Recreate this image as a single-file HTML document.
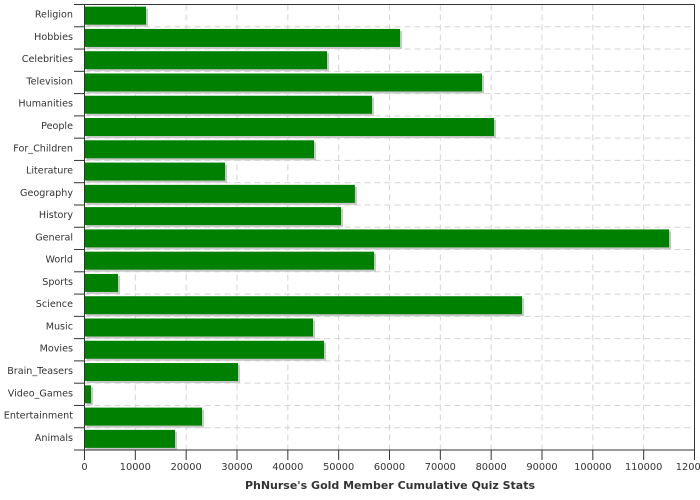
<!DOCTYPE html>
<html><head><meta charset="utf-8"><style>body{margin:0;background:#fff}svg{display:block}</style></head><body>
<svg width="700" height="500" xmlns="http://www.w3.org/2000/svg" font-family="'DejaVu Sans','Liberation Sans',sans-serif">
<rect width="700" height="500" fill="#fff"/>
<g stroke="#d4d4d4" stroke-dasharray="6,4">
<line x1="135.33" y1="4.5" x2="135.33" y2="450"/><line x1="186.17" y1="4.5" x2="186.17" y2="450"/><line x1="237" y1="4.5" x2="237" y2="450"/><line x1="287.83" y1="4.5" x2="287.83" y2="450"/><line x1="338.67" y1="4.5" x2="338.67" y2="450"/><line x1="389.5" y1="4.5" x2="389.5" y2="450"/><line x1="440.33" y1="4.5" x2="440.33" y2="450"/><line x1="491.17" y1="4.5" x2="491.17" y2="450"/><line x1="542" y1="4.5" x2="542" y2="450"/><line x1="592.83" y1="4.5" x2="592.83" y2="450"/><line x1="643.67" y1="4.5" x2="643.67" y2="450"/>
<line x1="84.5" y1="26.78" x2="694.5" y2="26.78"/><line x1="84.5" y1="49.05" x2="694.5" y2="49.05"/><line x1="84.5" y1="71.33" x2="694.5" y2="71.33"/><line x1="84.5" y1="93.6" x2="694.5" y2="93.6"/><line x1="84.5" y1="115.88" x2="694.5" y2="115.88"/><line x1="84.5" y1="138.15" x2="694.5" y2="138.15"/><line x1="84.5" y1="160.43" x2="694.5" y2="160.43"/><line x1="84.5" y1="182.7" x2="694.5" y2="182.7"/><line x1="84.5" y1="204.98" x2="694.5" y2="204.98"/><line x1="84.5" y1="227.25" x2="694.5" y2="227.25"/><line x1="84.5" y1="249.53" x2="694.5" y2="249.53"/><line x1="84.5" y1="271.8" x2="694.5" y2="271.8"/><line x1="84.5" y1="294.08" x2="694.5" y2="294.08"/><line x1="84.5" y1="316.35" x2="694.5" y2="316.35"/><line x1="84.5" y1="338.63" x2="694.5" y2="338.63"/><line x1="84.5" y1="360.9" x2="694.5" y2="360.9"/><line x1="84.5" y1="383.18" x2="694.5" y2="383.18"/><line x1="84.5" y1="405.45" x2="694.5" y2="405.45"/><line x1="84.5" y1="427.73" x2="694.5" y2="427.73"/>
</g>
<g fill="#c8c8c8">
<rect x="86.5" y="8.64" width="61.5" height="18"/><rect x="86.5" y="30.91" width="315.5" height="18"/><rect x="86.5" y="53.19" width="242.5" height="18"/><rect x="86.5" y="75.46" width="397.5" height="18"/><rect x="86.5" y="97.74" width="287.5" height="18"/><rect x="86.5" y="120.01" width="409.5" height="18"/><rect x="86.5" y="142.29" width="229.5" height="18"/><rect x="86.5" y="164.56" width="140.5" height="18"/><rect x="86.5" y="186.84" width="270.4" height="18"/><rect x="86.5" y="209.11" width="256.5" height="18"/><rect x="86.5" y="231.39" width="584.6" height="18"/><rect x="86.5" y="253.66" width="289.5" height="18"/><rect x="86.5" y="275.94" width="33.5" height="18"/><rect x="86.5" y="298.21" width="437.5" height="18"/><rect x="86.5" y="320.49" width="228.5" height="18"/><rect x="86.5" y="342.76" width="239.5" height="18"/><rect x="86.5" y="365.04" width="153.5" height="18"/><rect x="86.5" y="387.31" width="6.5" height="18"/><rect x="86.5" y="409.59" width="117.5" height="18"/><rect x="86.5" y="431.86" width="90.5" height="18"/>
</g>
<g fill="#008000">
<rect x="84.5" y="6.64" width="61.5" height="18"/><rect x="84.5" y="28.91" width="315.5" height="18"/><rect x="84.5" y="51.19" width="242.5" height="18"/><rect x="84.5" y="73.46" width="397.5" height="18"/><rect x="84.5" y="95.74" width="287.5" height="18"/><rect x="84.5" y="118.01" width="409.5" height="18"/><rect x="84.5" y="140.29" width="229.5" height="18"/><rect x="84.5" y="162.56" width="140.5" height="18"/><rect x="84.5" y="184.84" width="270.4" height="18"/><rect x="84.5" y="207.11" width="256.5" height="18"/><rect x="84.5" y="229.39" width="584.6" height="18"/><rect x="84.5" y="251.66" width="289.5" height="18"/><rect x="84.5" y="273.94" width="33.5" height="18"/><rect x="84.5" y="296.21" width="437.5" height="18"/><rect x="84.5" y="318.49" width="228.5" height="18"/><rect x="84.5" y="340.76" width="239.5" height="18"/><rect x="84.5" y="363.04" width="153.5" height="18"/><rect x="84.5" y="385.31" width="6.5" height="18"/><rect x="84.5" y="407.59" width="117.5" height="18"/><rect x="84.5" y="429.86" width="90.5" height="18"/>
</g>
<g font-size="9.6" text-anchor="end" fill="#333" transform="translate(0,-1.5)">
<text x="73" y="19.1">Religion</text><text x="73" y="41.4">Hobbies</text><text x="73" y="63.7">Celebrities</text><text x="73" y="85.9">Television</text><text x="73" y="108.2">Humanities</text><text x="73" y="130.5">People</text><text x="73" y="152.8">For_Children</text><text x="73" y="175">Literature</text><text x="73" y="197.3">Geography</text><text x="73" y="219.6">History</text><text x="73" y="241.9">General</text><text x="73" y="264.1">World</text><text x="73" y="286.4">Sports</text><text x="73" y="308.7">Science</text><text x="73" y="331">Music</text><text x="73" y="353.2">Movies</text><text x="73" y="375.5">Brain_Teasers</text><text x="73" y="397.8">Video_Games</text><text x="73" y="420.1">Entertainment</text><text x="73" y="442.3">Animals</text>
</g>
<g stroke="#333">
<line x1="74" y1="4.5" x2="84.5" y2="4.5"/><line x1="74" y1="26.78" x2="84.5" y2="26.78"/><line x1="74" y1="49.05" x2="84.5" y2="49.05"/><line x1="74" y1="71.33" x2="84.5" y2="71.33"/><line x1="74" y1="93.6" x2="84.5" y2="93.6"/><line x1="74" y1="115.88" x2="84.5" y2="115.88"/><line x1="74" y1="138.15" x2="84.5" y2="138.15"/><line x1="74" y1="160.43" x2="84.5" y2="160.43"/><line x1="74" y1="182.7" x2="84.5" y2="182.7"/><line x1="74" y1="204.98" x2="84.5" y2="204.98"/><line x1="74" y1="227.25" x2="84.5" y2="227.25"/><line x1="74" y1="249.53" x2="84.5" y2="249.53"/><line x1="74" y1="271.8" x2="84.5" y2="271.8"/><line x1="74" y1="294.08" x2="84.5" y2="294.08"/><line x1="74" y1="316.35" x2="84.5" y2="316.35"/><line x1="74" y1="338.63" x2="84.5" y2="338.63"/><line x1="74" y1="360.9" x2="84.5" y2="360.9"/><line x1="74" y1="383.18" x2="84.5" y2="383.18"/><line x1="74" y1="405.45" x2="84.5" y2="405.45"/><line x1="74" y1="427.73" x2="84.5" y2="427.73"/><line x1="74" y1="450" x2="84.5" y2="450"/>
<line x1="84.5" y1="450" x2="84.5" y2="460"/><line x1="135.33" y1="450" x2="135.33" y2="460"/><line x1="186.17" y1="450" x2="186.17" y2="460"/><line x1="237" y1="450" x2="237" y2="460"/><line x1="287.83" y1="450" x2="287.83" y2="460"/><line x1="338.67" y1="450" x2="338.67" y2="460"/><line x1="389.5" y1="450" x2="389.5" y2="460"/><line x1="440.33" y1="450" x2="440.33" y2="460"/><line x1="491.17" y1="450" x2="491.17" y2="460"/><line x1="542" y1="450" x2="542" y2="460"/><line x1="592.83" y1="450" x2="592.83" y2="460"/><line x1="643.67" y1="450" x2="643.67" y2="460"/><line x1="694.5" y1="450" x2="694.5" y2="460"/>
<line x1="84.5" y1="4.5" x2="84.5" y2="450"/><line x1="84.5" y1="450" x2="694.5" y2="450"/><line x1="84.5" y1="4.5" x2="694.5" y2="4.5"/><line x1="694.5" y1="4.5" x2="694.5" y2="450"/>
</g>
<g font-size="9.8" text-anchor="middle" fill="#333">
<text x="84.5" y="470">0</text><text x="135.33" y="470">10000</text><text x="186.17" y="470">20000</text><text x="237" y="470">30000</text><text x="287.83" y="470">40000</text><text x="338.67" y="470">50000</text><text x="389.5" y="470">60000</text><text x="440.33" y="470">70000</text><text x="491.17" y="470">80000</text><text x="542" y="470">90000</text><text x="592.83" y="470">100000</text><text x="643.67" y="470">110000</text><text x="694.5" y="470">120000</text>
</g>
<text x="390" y="489" font-size="11" font-weight="bold" text-anchor="middle" fill="#333">PhNurse's Gold Member Cumulative Quiz Stats</text>
</svg>
</body></html>
